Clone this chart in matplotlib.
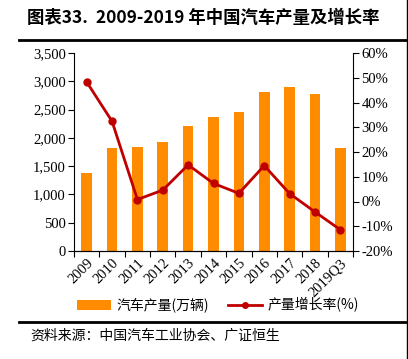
import matplotlib
matplotlib.use("Agg")
import matplotlib.pyplot as plt
from matplotlib.lines import Line2D
from matplotlib.patches import Patch
import numpy as np

categories = ["2009", "2010", "2011", "2012", "2013", "2014", "2015", "2016", "2017", "2018", "2019Q3"]
production = [1379, 1827, 1842, 1927, 2212, 2372, 2450, 2812, 2902, 2781, 1814]
growth = [48.3, 32.4, 0.8, 4.6, 14.8, 7.3, 3.3, 14.5, 3.2, -4.2, -11.4]
left_ticks = [0, 500, 1000, 1500, 2000, 2500, 3000, 3500]
right_ticks = [-20, -10, 0, 10, 20, 30, 40, 50, 60]

title = "图表33.  2009-2019 年中国汽车产量及增长率"
source = "资料来源：中国汽车工业协会、广证恒生"
bar_label = "汽车产量(万辆)"
line_label = "产量增长率(%)"

W, H = 408, 359
fig = plt.figure(figsize=(W / 100, H / 100), dpi=100)

serif = ["Liberation Serif", "Noto Sans CJK SC"]
cjk = ["Noto Sans CJK SC", "Liberation Serif"]

ax = fig.add_axes([74 / W, 1 - 251 / H, (353 - 74) / W, (251 - 53) / H])
x = np.arange(len(categories))
bar_color = "#FF8C00"
line_color = "#C00000"
ax.bar(x, production, width=0.42, color=bar_color, zorder=2)
ax.set_xlim(-0.5, len(categories) - 0.5)
ax.set_ylim(0, 3500)
ax.set_yticks(left_ticks)
ax.set_yticklabels([f"{v:,}" for v in left_ticks], fontfamily=serif, fontsize=10.5)
ax.set_xticks(np.arange(-0.5, len(categories), 1.0))
ax.set_xticklabels([])
ax.set_xticks(x, minor=True)
ax.set_xticklabels(categories, minor=True, rotation=45, ha="right", rotation_mode="anchor",
                   fontfamily=serif, fontsize=10.5)
ax.tick_params(axis="x", which="minor", length=0, pad=4)
ax.tick_params(axis="x", which="major", length=4, direction="out")
ax.tick_params(axis="y", length=4, direction="out", pad=2)
for s in ["top", "right"]:
    ax.spines[s].set_visible(False)

ax2 = ax.twinx()
ax2.plot(x, growth, color=line_color, lw=2, marker="o", ms=5, zorder=3)
ax2.set_ylim(-20, 60)
ax2.set_yticks(right_ticks)
ax2.set_yticklabels([f"{v}%" for v in right_ticks], fontfamily=serif, fontsize=10.5)
ax2.tick_params(axis="y", length=4, direction="out", pad=2)
for s in ["top", "left"]:
    ax2.spines[s].set_visible(False)

# title and rules
fig.text(27 / W, 1 - 18 / H, title, fontfamily=cjk, fontsize=12.5, fontweight="bold",
         va="center", ha="left")
fig.add_artist(Line2D([19 / W, 1], [1 - 40 / H, 1 - 40 / H], color="black", lw=2))
fig.add_artist(Line2D([19 / W, 1], [1 - 322 / H, 1 - 322 / H], color="black", lw=2))
fig.add_artist(Line2D([406.5 / W, 406.5 / W], [0, 1], color="black", lw=1))
fig.text(30 / W, 1 - 336 / H, source, fontfamily=cjk, fontsize=10, va="center", ha="left")

handles = [Patch(facecolor=bar_color, edgecolor="none"),
           Line2D([0], [0], color=line_color, lw=2, marker="o", ms=4)]
leg = fig.legend(handles, [bar_label, line_label], loc="center", bbox_to_anchor=(218 / W, 1 - 305 / H),
                 ncol=2, frameon=False, prop={"family": cjk, "size": 10},
                 handlelength=2.4, columnspacing=1.4, handletextpad=0.4)

fig.savefig("out.png", dpi=100)
